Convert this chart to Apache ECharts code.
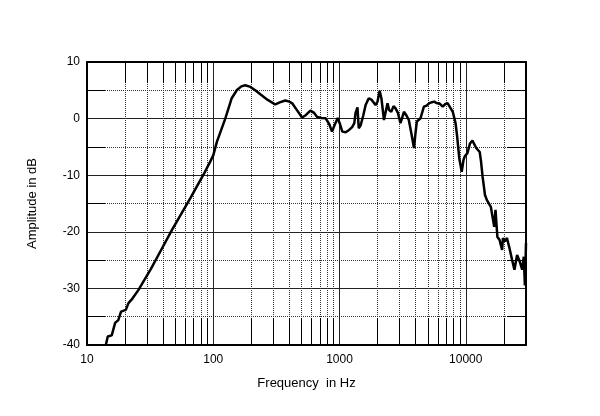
<!DOCTYPE html>
<html>
<head>
<meta charset="utf-8">
<script src="https://cdn.jsdelivr.net/npm/echarts@6/dist/echarts.min.js"></script>
<style>
  html, body { margin: 0; padding: 0; background: #fff; }
  #chart { width: 600px; height: 416px; }
</style>
</head>
<body>
<div id="chart"></div>
<script>
// frequency response
var freqHz = [
  14.1, 14.6, 15.7, 16.7, 17.7, 18.6, 20.3, 21.3, 22.9, 25.5,
  32, 40, 47, 65.7, 86, 94.6, 100, 106.8, 124.5, 140,
  154, 167, 179, 197, 215, 236, 270, 310, 340, 372,
  400, 422, 460, 505, 540, 588, 630, 665, 720, 777,
  830, 872, 920, 968, 1010, 1053, 1120, 1191, 1260, 1310,
  1340, 1388, 1420, 1470, 1540, 1610, 1705, 1800, 1930, 2000,
  2080, 2150, 2250, 2400, 2470, 2570, 2680, 2780, 2900, 3040,
  3240, 3400, 3540, 3700, 3890, 4000, 4100, 4380, 4660, 4900,
  5120, 5400, 5630, 5900, 6180, 6570, 6900, 7200, 7890, 8300,
  8550, 8880, 9290, 9600, 9800, 10300, 10800, 11300, 12100, 12900,
  13200, 13600, 14200, 14700, 15800, 16800, 17200, 17800, 18500, 19400,
  19700, 20400, 21200, 22200, 23300, 24300, 25500, 26800, 28000, 28800,
  29400, 30000
];
var amplitudeDb = [
  -40, -38.5, -38.3, -36.1, -35.6, -34.1, -33.8, -32.6, -31.8, -30.3,
  -26.6, -22.6, -19.7, -14.1, -9.4, -7.6, -6.5, -4.1, 0, 3.6,
  5.05, 5.7, 5.9, 5.6, 5.0, 4.3, 3.3, 2.5, 2.9, 3.2,
  3.0, 2.7, 1.5, 0.2, 0.6, 1.4, 1.0, 0.3, 0.1, 0.05,
  -1.0, -2.3, -1.0, 0.1, -1.0, -2.3, -2.4, -2.0, -1.5, -0.8,
  1.0, 2.0, -1.7, -1.2, 0.5, 2.4, 3.6, 3.3, 2.4, 3.0,
  4.9, 3.5, -0.25, 2.7, 1.5, 1.2, 2.2, 1.8, 1.0, -0.8,
  1.2, 0.5, -0.25, -2.5, -5.2, -2.5, -0.5, 0.05, 2.1, 2.3,
  2.7, 2.9, 3.0, 2.7, 2.7, 2.1, 2.6, 2.7, 1.2, -0.8,
  -3.2, -7.0, -9.4, -7.3, -6.7, -6.1, -4.4, -3.9, -5.2, -5.9,
  -7.5, -10.3, -13.5, -14.4, -15.6, -19.1, -16.1, -20.9, -21.4, -23.2,
  -21.1, -21.7, -21.1, -22.9, -25, -26.7, -24.1, -25.3, -26.7, -24.4,
  -29.5, -22
];

var seriesData = freqHz.map(function (f, i) { return [f, amplitudeDb[i]]; });

var labelFont = { color: '#000', fontSize: 12, fontFamily: 'Liberation Sans, Arial, sans-serif' };
var frameLine = { show: true, onZero: false, lineStyle: { color: '#000', width: 2 } };
var dotted = { type: 'dotted', color: '#333', width: 1 };
var solid = { type: 'solid', color: '#222', width: 1 };

function freqLabel(v) {
  return v > 10000 ? '' : String(Math.round(v));
}

var chart = echarts.init(document.getElementById('chart'));
chart.setOption({
  backgroundColor: '#fff',
  animation: false,
  grid: { left: 87, top: 62, right: 74, bottom: 71, containLabel: false },
  xAxis: [{
    type: 'log', logBase: 10, min: 10, max: 30000, position: 'bottom',
    name: 'Frequency  in Hz', nameLocation: 'middle', nameGap: 32,
    nameTextStyle: { color: '#000', fontSize: 13, fontFamily: 'Liberation Sans, Arial, sans-serif' },
    axisLine: frameLine,
    axisTick: { show: false, inside: true },
    axisLabel: Object.assign({ margin: 9, formatter: freqLabel, showMaxLabel: false }, labelFont),
    splitLine: { show: true, lineStyle: solid },
    minorTick: { show: true, splitNumber: 9, length: 27, lineStyle: { color: '#000', width: 1 } },
    minorSplitLine: { show: true, lineStyle: dotted }
  }, {
    type: 'log', logBase: 10, min: 10, max: 30000, position: 'top',
    axisLine: frameLine,
    axisTick: { show: false, inside: true },
    axisLabel: { show: false },
    splitLine: { show: false },
    minorTick: { show: true, splitNumber: 9, length: 21, lineStyle: { color: '#000', width: 1 } }
  }],
  yAxis: [{
    type: 'value', min: -40, max: 10, interval: 10, position: 'left',
    name: 'Amplitude in dB', nameLocation: 'middle', nameGap: 48,
    nameTextStyle: { color: '#000', fontSize: 13, fontFamily: 'Liberation Sans, Arial, sans-serif' },
    axisLine: frameLine,
    axisTick: { show: false, inside: true },
    axisLabel: Object.assign({ margin: 7 }, labelFont),
    splitLine: { show: true, lineStyle: solid },
    minorTick: { show: true, splitNumber: 2, length: 18, lineStyle: { color: '#000', width: 1 } },
    minorSplitLine: { show: true, lineStyle: dotted }
  }, {
    type: 'value', min: -40, max: 10, interval: 10, position: 'right',
    axisLine: frameLine,
    axisTick: { show: false, inside: true },
    axisLabel: { show: false },
    splitLine: { show: false },
    minorTick: { show: true, splitNumber: 2, length: 19, lineStyle: { color: '#000', width: 1 } }
  }],
  series: [{
    type: 'line',
    xAxisIndex: 0, yAxisIndex: 0,
    data: seriesData,
    showSymbol: false,
    smooth: false,
    clip: true,
    lineStyle: { color: '#000', width: 2.5 }
  }]
});
</script>
</body>
</html>
